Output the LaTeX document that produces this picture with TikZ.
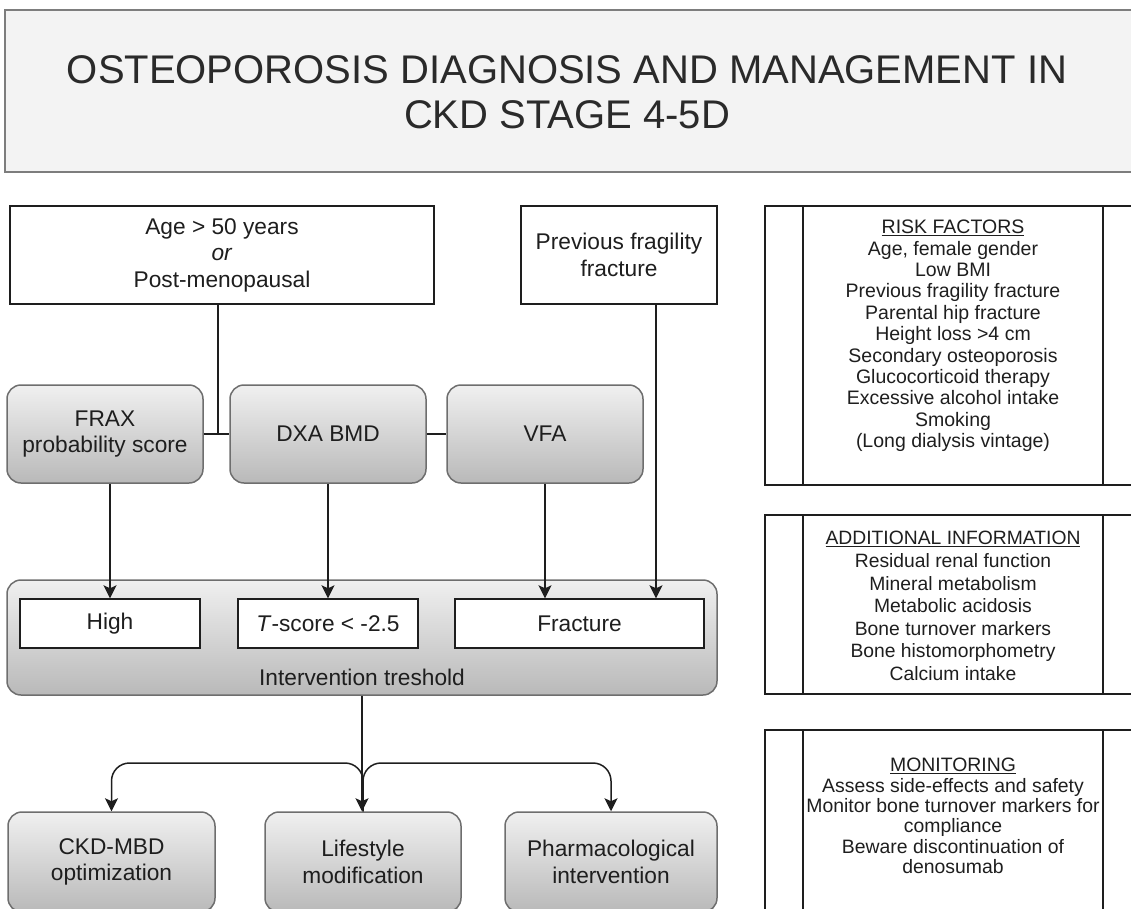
\documentclass[tikz,border=0pt]{standalone}
\usepackage{fontspec}
\setmainfont{Liberation Sans}
\usepackage{xcolor}
\usetikzlibrary{arrows.meta, calc}

\definecolor{inkgray}{HTML}{1E1E1E}
\definecolor{titleink}{HTML}{2A2A2A}
\definecolor{framegray}{HTML}{6E6E6E}
\definecolor{titlefill}{HTML}{F3F3F3}
\definecolor{shadetop}{HTML}{F0F0F0}
\definecolor{shadebot}{HTML}{B9B9B9}

\tikzset{
  titlebox/.style={draw=framegray!90, line width=1.8pt, fill=titlefill},
  plainbox/.style={draw=inkgray, line width=1.4pt, fill=white, inner sep=0pt,
    align=center, text=inkgray, font=\fontsize{22.7}{26.5}\selectfont},
  shadebox/.style={draw=framegray, line width=1.5pt, rounded corners=14pt,
    top color=shadetop, bottom color=shadebot, inner sep=0pt,
    align=center, text=inkgray, font=\fontsize{22.7}{26.8}\selectfont},
  infoframe/.style={draw=inkgray, line width=1.5pt},
  infotext/.style={align=center, text=inkgray, inner sep=0pt},
  link/.style={draw=inkgray, line width=1.5pt},
  arr/.style={link, -{Stealth[length=13pt, width=13pt, inset=3pt]}}
}

\begin{document}
\begin{tikzpicture}[x=1pt, y=-1pt]
  \useasboundingbox (0,0) rectangle (1131,908);
  \clip (0,0) rectangle (1131,908);

  % Title
  \draw[titlebox] (5,10) rectangle (1134,172);
  \node[align=center, text=titleink, font=\fontsize{40}{45}\selectfont] (title) at (567,92)
    {OSTEOPOROSIS DIAGNOSIS AND MANAGEMENT IN\\CKD STAGE 4-5D};

  % Who to assess
  \node[plainbox, minimum width=424, minimum height=98] (age) at (222,255)
    {Age > 50 years\\\textit{or}\\Post-menopausal};
  \node[plainbox, minimum width=196, minimum height=98] (prevfx) at (619,255)
    {Previous fragility\\fracture};

  % Assessment tools
  \node[shadebox, minimum width=196, minimum height=98] (frax) at (105,434)
    {FRAX\\probability score};
  \node[shadebox, minimum width=196, minimum height=98] (dxa) at (328,434) {DXA BMD};
  \node[shadebox, minimum width=196, minimum height=98] (vfa) at (545,434) {VFA};

  \coordinate (join) at ($(frax.east)!0.55!(dxa.west)$);
  \draw[link] (frax.east) -- (dxa.west);
  \draw[link] (dxa.east) -- (vfa.west);
  \draw[link] (age.south -| join) -- (join);

  % Intervention threshold
  \node[shadebox, minimum width=710, minimum height=115] (thr) at (362,637.5) {};
  \node[text=inkgray, font=\fontsize{22.7}{26.8}\selectfont] (thrlabel) at (362,677)
    {Intervention treshold};
  \node[plainbox, minimum width=180, minimum height=49] (high) at (110,623.5) {High};
  \node[plainbox, minimum width=180, minimum height=49] (tscore) at (328,623.5)
    {\textit{T}-score < -2.5};
  \node[plainbox, minimum width=249, minimum height=49] (fract) at (579.5,623.5) {Fracture};

  \draw[arr] (high.north |- frax.south) -- (high.north);
  \draw[arr] (dxa.south) -- (tscore.north);
  \draw[arr] (vfa.south) -- (vfa.south |- fract.north);
  \draw[arr] ([xshift=37]prevfx.south) -- ([xshift=37]prevfx.south |- fract.north);

  % Management
  \node[shadebox, minimum width=207, minimum height=100] (ckdmbd) at (111.5,862)
    {CKD-MBD\\optimization};
  \node[shadebox, minimum width=196, minimum height=100] (life) at (363,862)
    {Lifestyle\\modification};
  \node[shadebox, minimum width=212, minimum height=100] (pharma) at (611,862)
    {Pharmacological\\intervention};

  \coordinate (hbar) at (0,763);
  \draw[arr] (thr.south) -- (thr.south |- life.north);
  \draw[arr, rounded corners=18pt] (life.north) -- (life.north |- hbar) -| (ckdmbd.north);
  \draw[arr, rounded corners=18pt] (life.north) -- (life.north |- hbar) -| (pharma.north);

  % Side panels
  \draw[infoframe] (765,206) rectangle (1140,485);
  \draw[infoframe] (803,206) -- (803,485);
  \draw[infoframe] (1103,206) -- (1103,485);
  \node[infotext, font=\fontsize{19.5}{21.4}\selectfont] (risk) at (953,336)
    {\underline{RISK FACTORS}\\Age, female gender\\Low BMI\\Previous fragility fracture\\
     Parental hip fracture\\Height loss >4 cm\\Secondary osteoporosis\\
     Glucocorticoid therapy\\Excessive alcohol intake\\Smoking\\(Long dialysis vintage)};

  \draw[infoframe] (765,515) rectangle (1140,694);
  \draw[infoframe] (803,515) -- (803,694);
  \draw[infoframe] (1103,515) -- (1103,694);
  \node[infotext, font=\fontsize{19.3}{22.6}\selectfont] (addinfo) at (953,606)
    {\underline{ADDITIONAL INFORMATION}\\Residual renal function\\Mineral metabolism\\
     Metabolic acidosis\\Bone turnover markers\\Bone histomorphometry\\Calcium intake};

  \draw[infoframe] (765,730) rectangle (1140,960);
  \draw[infoframe] (803,730) -- (803,960);
  \draw[infoframe] (1103,730) -- (1103,960);
  \node[infotext, font=\fontsize{19.4}{20.4}\selectfont] (monitor) at (953,816)
    {\underline{MONITORING}\\Assess side-effects and safety\\Monitor bone turnover markers for\\
     compliance\\Beware discontinuation of\\denosumab};
\end{tikzpicture}
\end{document}
